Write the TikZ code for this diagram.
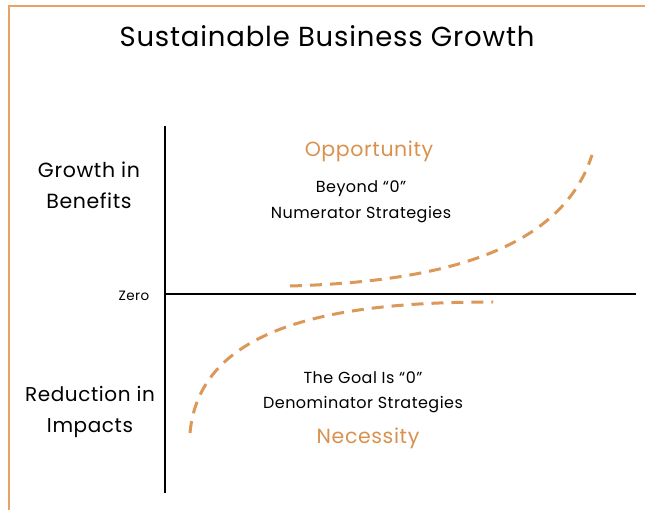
\documentclass[tikz,border=0pt]{standalone}
\usepackage{fontspec}
\setmainfont{Poppins}[LetterSpace=3]
\definecolor{orangeline}{HTML}{E9A263}
\definecolor{orangedash}{HTML}{DB9858}
\definecolor{orangetext}{HTML}{D9914F}
\begin{document}
\begin{tikzpicture}[x=1pt,y=-1pt,
  lbl/.style={inner sep=0pt,align=center,text=black},
  curve/.style={orangedash,line width=3pt,dash pattern=on 12pt off 8pt},
  axis/.style={black,line width=2.6pt}]
\useasboundingbox (0,0) rectangle (645,510);
\draw[orangeline,line width=1.6pt] (645,6) -- (9,6) -- (9,510);
\node[lbl,font=\fontsize{27.5}{30}\selectfont] (title) at (327,36) {Sustainable Business Growth};
\coordinate (ytop) at (165,126);
\coordinate (ybot) at (165,493);
\coordinate (xl) at (165,294);
\coordinate (xr) at (636,294);
\draw[axis] (ytop) -- (ybot);
\draw[axis] (xl) -- (xr);
\node[lbl,font=\fontsize{20.5}{31}\selectfont] (gb) at (89,185) {Growth in\\Benefits};
\node[lbl,font=\fontsize{20}{31}\selectfont] (ri) at (90,412) {Reduction in\\Impacts};
\node[lbl,font=\fontsize{13.5}{14}\selectfont] (zero) at (134,296) {Zero};
\node[lbl,font=\fontsize{20.5}{22}\selectfont,text=orangetext] (opp) at (369,151) {Opportunity};
\node[lbl,font=\fontsize{16}{26}\selectfont] (num) at (361,202) {Beyond “0”\\Numerator Strategies};
\node[lbl,font=\fontsize{16}{25}\selectfont] (den) at (363,392.5) {The Goal Is “0”\\Denominator Strategies};
\node[lbl,font=\fontsize{20.5}{22}\selectfont,text=orangetext] (nec) at (368,438) {Necessity};
\draw[curve] (290,286) .. controls (430,282) and (560,255) .. (592,155);
\draw[curve] (190,433) .. controls (200,320) and (350,302) .. (493,302);
\end{tikzpicture}
\end{document}
